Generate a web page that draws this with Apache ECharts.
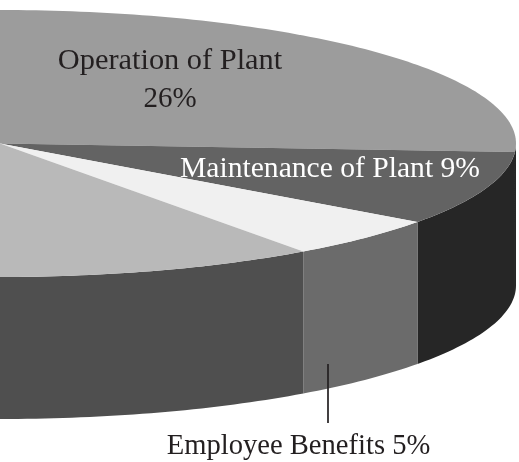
<!DOCTYPE html>
<html><head><meta charset="utf-8">
<style>html,body{margin:0;padding:0;background:#fff}#c{width:519px;height:462px}</style>
<script src="https://cdn.jsdelivr.net/npm/echarts@6/dist/echarts.min.js"></script>
</head><body><div id="c"></div>
<script>
const categories = ['Operation of Plant', 'Maintenance of Plant', 'Employee Benefits', ''];
const shares = [26, 9, 5, 60];
const topColors = ['#9c9c9c', '#636363', '#f0f0f0', '#b9b9b9'];
const sideColors = ['#262626', '#262626', '#6b6b6b', '#4f4f4f'];

const CX = 0, CY = 143.5, RX = 516, RY = 133.5, DEPTH = 142, STEP = 1;
const FONT = '"Liberation Serif", serif';
const total = shares.reduce((a, b) => a + b, 0);

const spans = [];
let acc = -90;
shares.forEach(v => { const s = acc; acc += v / total * 360; spans.push([s, acc]); });

function rim(deg, dy) {
  const r = deg * Math.PI / 180;
  return [CX + RX * Math.cos(r), CY + RY * Math.sin(r) + (dy || 0)];
}
function arc(a, b, dy) {
  const pts = [];
  for (let d = a; d < b; d += STEP) pts.push(rim(d, dy));
  pts.push(rim(b, dy));
  return pts;
}
function topFace(params) {
  const i = params.dataIndex, s = spans[i];
  return { type: 'polygon', shape: { points: [[CX, CY]].concat(arc(s[0], s[1])) },
    style: { fill: topColors[i] } };
}
function sideFace(params) {
  const i = params.dataIndex, s = spans[i];
  const a = Math.max(s[0], 0), b = Math.min(s[1], 180);
  if (b <= a) return null;
  return { type: 'polygon', shape: { points: arc(a, b).concat(arc(a, b, DEPTH).reverse()) },
    style: { fill: sideColors[i] } };
}
const opt = {
  animation: false,
  series: [
    { type: 'custom', coordinateSystem: 'none', renderItem: sideFace, data: shares, silent: true, z: 1 },
    { type: 'custom', coordinateSystem: 'none', renderItem: topFace, data: shares, silent: true, z: 2 }
  ],
  graphic: [
    { type: 'text', z: 10, style: { x: 170, y: 61, text: categories[0], font: '30.4px ' + FONT, fill: '#231f20', textAlign: 'center', textVerticalAlign: 'middle' } },
    { type: 'text', z: 10, style: { x: 170, y: 99, text: shares[0] + '%', font: '29px ' + FONT, fill: '#231f20', textAlign: 'center', textVerticalAlign: 'middle' } },
    { type: 'text', z: 10, style: { x: 330, y: 169, text: categories[1] + ' ' + shares[1] + '%', font: '29.6px ' + FONT, fill: '#ffffff', textAlign: 'center', textVerticalAlign: 'middle' } },
    { type: 'text', z: 10, style: { x: 298.5, y: 446, text: categories[2] + ' ' + shares[2] + '%', font: '28.6px ' + FONT, fill: '#231f20', textAlign: 'center', textVerticalAlign: 'middle' } },
    { type: 'line', z: 10, shape: { x1: 328, y1: 364, x2: 328, y2: 423 }, style: { stroke: '#231f20', lineWidth: 1.7 } }
  ]
};
echarts.init(document.getElementById('c'), null, { renderer: 'canvas' }).setOption(opt);
</script></body></html>
